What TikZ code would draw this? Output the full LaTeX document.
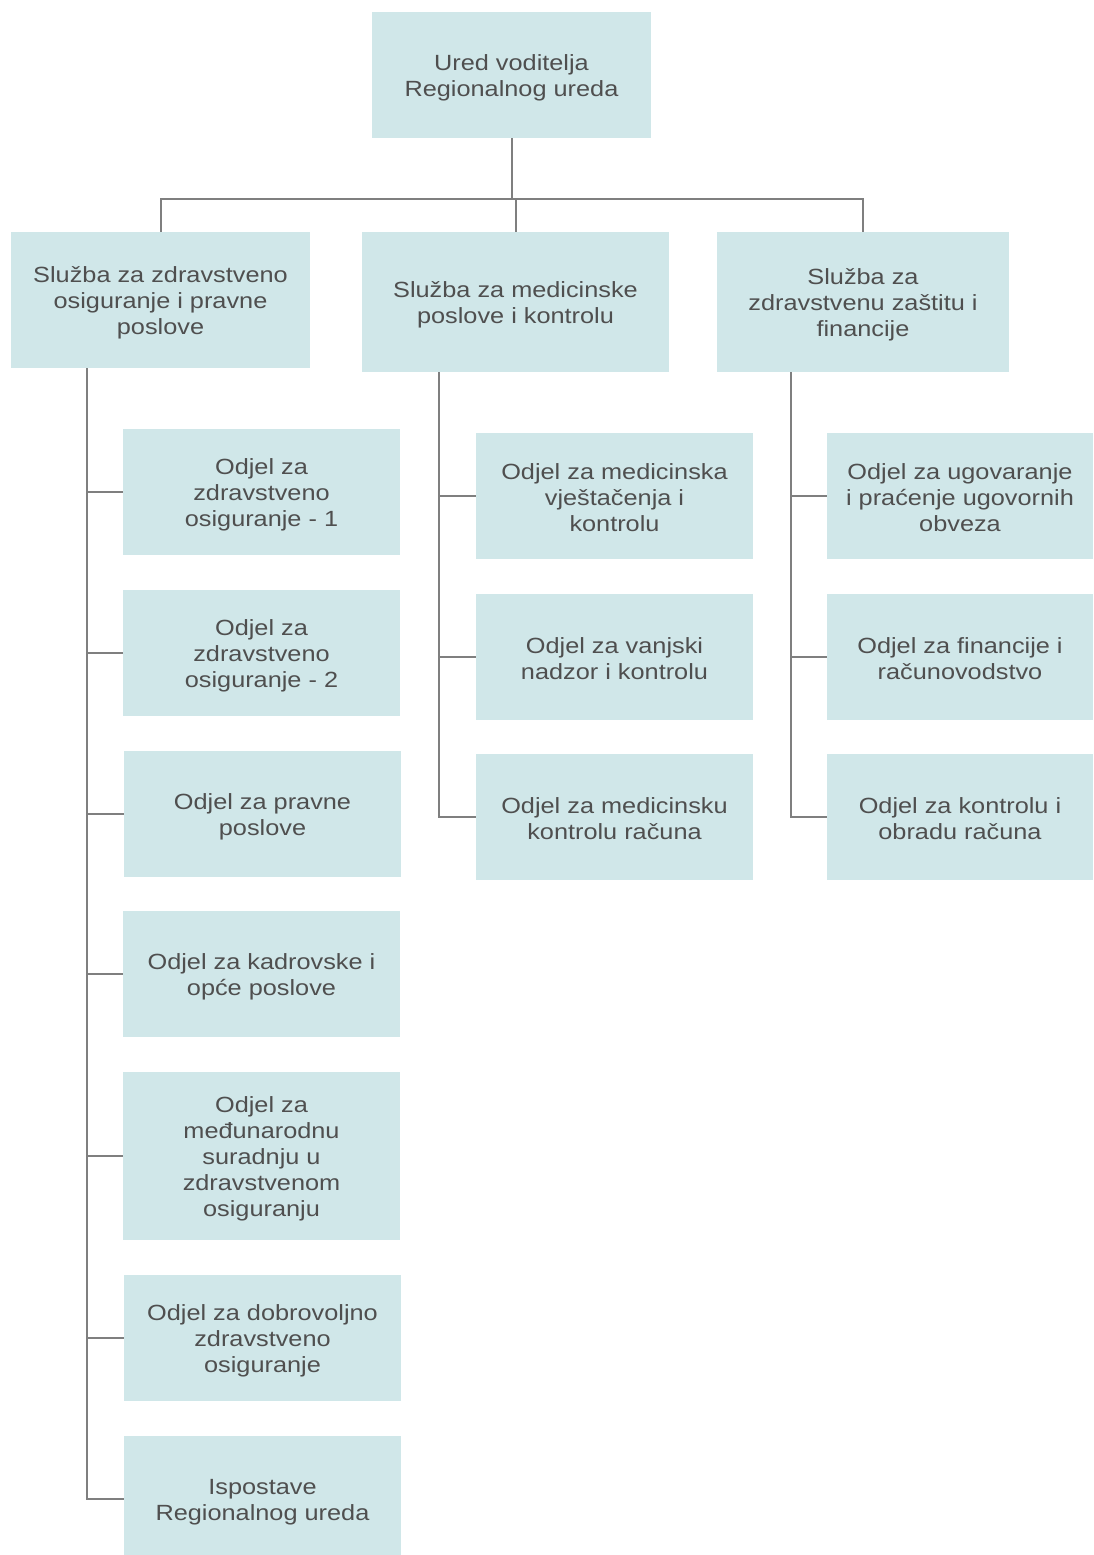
\documentclass[tikz,border=0pt]{standalone}
\usepackage{fontspec}
\setmainfont{Liberation Sans}[FakeStretch=1.15]
\definecolor{boxfill}{HTML}{D0E7E9}
\definecolor{txt}{HTML}{4F4F4F}
\definecolor{conn}{HTML}{7F7F7F}
\newcommand{\tstrutx}{\rule{0pt}{22pt}}
\tikzset{
  box/.style={rectangle, fill=boxfill, draw=none, inner sep=0pt, align=center,
    text=txt, font=\fontsize{22}{26}\selectfont,
    execute at end node={\rule[-4pt]{0pt}{0pt}}},
  lbox/.style={box, minimum width=277pt, minimum height=126pt},
  rbox/.style={box, minimum width=266pt, minimum height=126pt},
  link/.style={draw=conn, line width=2pt}
}
\begin{document}
\begin{tikzpicture}[x=1pt,y=-1pt]
\useasboundingbox (0,0) rectangle (1094,1555);
\fill[white] (0,0) rectangle (1094,1555);
% top
\node[box, minimum width=279pt, minimum height=126pt] (top) at (511.5,75) {\tstrutx Ured voditelja\\Regionalnog ureda};
% services
\node[box, minimum width=299pt, minimum height=136pt] (s1) at (160.5,300) {\tstrutx Služba za zdravstveno\\osiguranje i pravne\\poslove};
\node[box, minimum width=307pt, minimum height=140pt] (s2) at (515.5,302) {\tstrutx Služba za medicinske\\poslove i kontrolu};
\node[box, minimum width=292pt, minimum height=140pt] (s3) at (863,302) {\tstrutx Služba za\\zdravstvenu zaštitu i\\financije};
% left column
\node[lbox] (l1) at (261.5,492) {\tstrutx Odjel za\\zdravstveno\\osiguranje - 1};
\node[lbox] (l2) at (261.5,653) {\tstrutx Odjel za\\zdravstveno\\osiguranje - 2};
\node[lbox] (l3) at (262.5,813.5) {\tstrutx Odjel za pravne\\poslove};
\node[lbox] (l4) at (261.5,974) {\tstrutx Odjel za kadrovske i\\opće poslove};
\node[lbox, minimum height=168pt] (l5) at (261.5,1156) {\tstrutx Odjel za\\međunarodnu\\suradnju u\\zdravstvenom\\osiguranju};
\node[lbox] (l6) at (262.5,1337.5) {\tstrutx Odjel za dobrovoljno\\zdravstveno\\osiguranje};
\node[lbox] (l7) at (262.5,1499) {\tstrutx Ispostave\\Regionalnog ureda};
% middle column
\node[lbox] (m1) at (614.5,496) {\tstrutx Odjel za medicinska\\vještačenja i\\kontrolu};
\node[lbox] (m2) at (614.5,657) {\tstrutx Odjel za vanjski\\nadzor i kontrolu};
\node[lbox] (m3) at (614.5,817) {\tstrutx Odjel za medicinsku\\kontrolu računa};
% right column
\node[rbox] (r1) at (960,496) {\tstrutx Odjel za ugovaranje\\i praćenje ugovornih\\obveza};
\node[rbox] (r2) at (960,657) {\tstrutx Odjel za financije i\\računovodstvo};
\node[rbox] (r3) at (960,817) {\tstrutx Odjel za kontrolu i\\obradu računa};
% connectors top
\coordinate (bus) at (511.5,199);
\draw[link] (top.south) -- (bus);
\draw[link] (s1.north) |- (bus);
\draw[link] (s3.north) |- (bus);
\draw[link] (s2.north) -- (s2.north |- bus);
% trunks
\coordinate (t1) at (87,368);
\coordinate (t2) at (439,372);
\coordinate (t3) at (791,372);
\draw[link] (t1) |- (l7.west);
\foreach \n in {l1,l2,l3,l4,l5,l6} \draw[link] (\n.west) -- (\n.west -| t1);
\draw[link] (t2) |- (m3.west);
\foreach \n in {m1,m2} \draw[link] (\n.west) -- (\n.west -| t2);
\draw[link] (t3) |- (r3.west);
\foreach \n in {r1,r2} \draw[link] (\n.west) -- (\n.west -| t3);
\end{tikzpicture}
\end{document}
